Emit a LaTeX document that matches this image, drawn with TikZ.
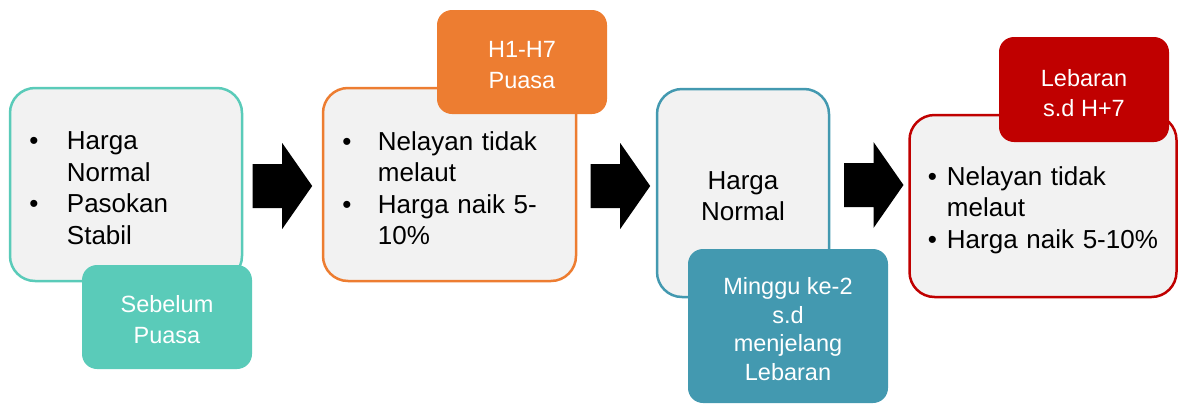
\documentclass[tikz,border=0pt]{standalone}
\usepackage{fontspec}
\setmainfont{Liberation Sans}
\definecolor{boxgray}{HTML}{F2F2F2}
\definecolor{tealc}{HTML}{5ACBB9}
\definecolor{orangec}{HTML}{ED7D31}
\definecolor{bluec}{HTML}{4399B0}
\definecolor{redc}{HTML}{C00000}
\newcommand\bitem[1]{\makebox[#1][l]{\textbullet}}
\newcommand\bpad[1]{\hspace*{#1}}
\begin{document}
\begin{tikzpicture}[x=1pt,y=-1pt,
  mainbox/.style={draw, line width=2.5pt, fill=boxgray, rounded corners=25pt, inner sep=0pt},
  bodytext/.style={inner sep=0pt, align=left, font=\fontsize{26}{31.5}\selectfont},
  tagbox/.style={fill=#1, draw=none, rounded corners=15pt, inner sep=0pt},
  tagtext/.style={inner sep=0pt, text=white, align=center, font=\fontsize{23.5}{30.5}\selectfont},
  blockarr/.pic={\fill[black] (0,-22) -- (29.5,-22) -- (29.5,-43) -- (59.5,0)
    -- (29.5,43) -- (29.5,22) -- (0,22) -- cycle;}]
\useasboundingbox (0,0) rectangle (1179,405);

% box 1
\node[mainbox, draw=tealc, minimum width=232pt, minimum height=193pt] (box1) at (126,184.5) {};
\node[bodytext, text width=200pt, anchor=west] (t1) at ([xshift=20.5pt,yshift=-3.5pt]box1.west)
  {\bitem{37.5pt}Harga\\\bpad{37.5pt}Normal\\\bitem{37.5pt}Pasokan\\\bpad{37.5pt}Stabil};
\node[tagbox=tealc, minimum width=170pt, minimum height=104pt] (lab1) at (167,317) {};
\node[tagtext] (l1) at ([yshift=-2.5pt]lab1.center) {Sebelum\\Puasa};

% box 2
\node[mainbox, draw=orangec, minimum width=253pt, minimum height=193pt] (box2) at (449.5,184.5) {};
\node[bodytext, text width=215pt, anchor=west] (t2) at ([xshift=20.5pt,yshift=-3.5pt]box2.west)
  {\bitem{35.5pt}Nelayan tidak\\\bpad{35.5pt}melaut\\\bitem{35.5pt}Harga naik 5-\\\bpad{35.5pt}10\%};
\node[tagbox=orangec, minimum width=170pt, minimum height=104pt] (lab2) at (522,62) {};
\node[tagtext] (l2) at ([yshift=-3pt]lab2.center) {H1-H7\\Puasa};

% box 3
\node[mainbox, draw=bluec, minimum width=172pt, minimum height=208pt] (box3) at (743,193) {};
\node[bodytext, align=center] (t3) at ([yshift=-3pt]box3.center) {Harga\\Normal};
\node[tagbox=bluec, minimum width=200pt, minimum height=154pt] (lab3) at (788,326) {};
\node[tagtext, font=\fontsize{23.5}{28.7}\selectfont] (l3) at ([yshift=-3pt]lab3.center)
  {Minggu ke-2\\s.d\\menjelang\\Lebaran};

% box 4
\node[mainbox, draw=redc, minimum width=267pt, minimum height=182pt] (box4) at (1043,206) {};
\node[bodytext, text width=235pt, anchor=west] (t4) at ([xshift=19.5pt,yshift=-4pt]box4.west)
  {\bitem{19pt}Nelayan tidak\\\bpad{19pt}melaut\\\bitem{19pt}Harga naik 5-10\%};
\node[tagbox=redc, minimum width=170pt, minimum height=105pt] (lab4) at (1084,89.5) {};
\node[tagtext] (l4) at ([yshift=-3.5pt]lab4.center) {Lebaran\\s.d H+7};

% arrows
\pic at (252.7,186) {blockarr};
\pic at (590.7,186) {blockarr};
\pic at (844,185) {blockarr};
\end{tikzpicture}
\end{document}
